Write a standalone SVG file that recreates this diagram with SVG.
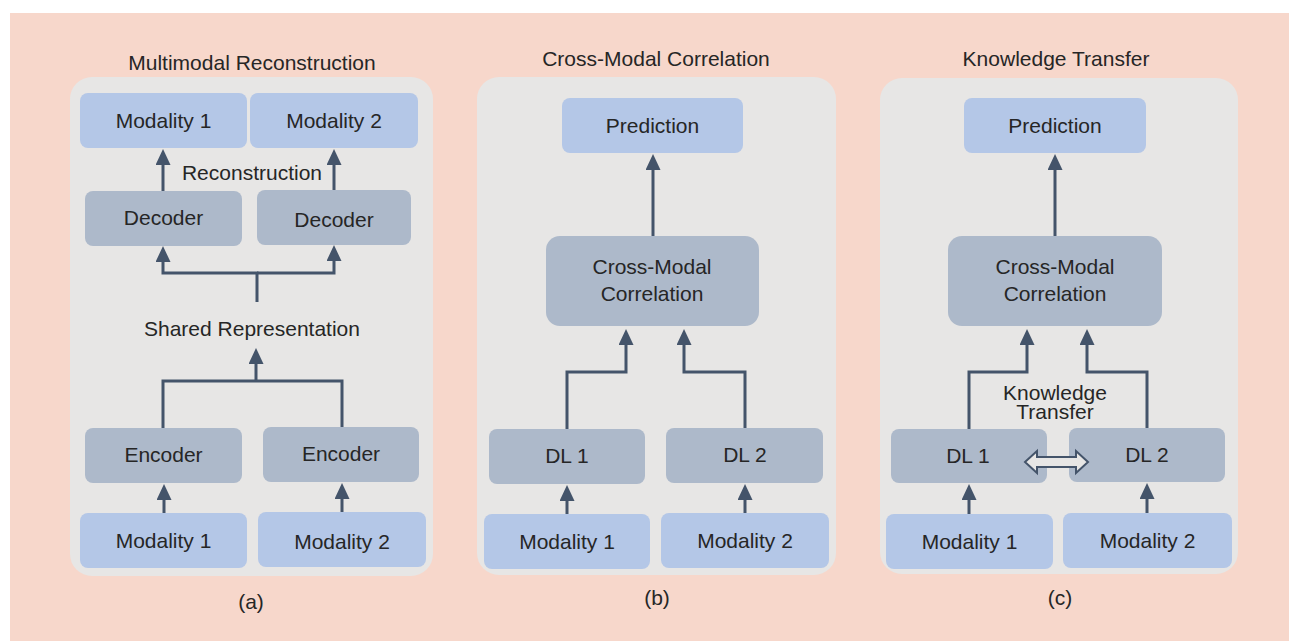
<svg xmlns="http://www.w3.org/2000/svg" width="1289" height="641" viewBox="0 0 1289 641">
  <defs>
    <style>
      text { font-family: "Liberation Sans", Arial, sans-serif; font-size: 21px; fill: #262626; text-anchor: middle; }
      .panel { fill: #e7e6e5; }
      .io { fill: #b4c7e7; }
      .proc { fill: #adb9ca; }
      .wire { fill: none; stroke: #44546a; stroke-width: 3; stroke-linejoin: miter; }
      .wire.head { marker-end: url(#tri); }
    </style>
    <marker id="tri" viewBox="0 0 16 15" refX="0" refY="7.5" markerWidth="16" markerHeight="15" markerUnits="userSpaceOnUse" orient="auto">
      <path d="M0,0 L16,7.5 L0,15 Z" fill="#44546a"/>
    </marker>
  </defs>

  <!-- backdrop -->
  <rect x="0" y="0" width="1289" height="641" fill="#ffffff"/>
  <rect x="10" y="13" width="1279" height="628" fill="#f7d7cb"/>

  <!-- panels -->
  <g id="panel-a">
    <text x="252" y="70">Multimodal Reconstruction</text>
    <rect class="panel" x="70" y="77" width="363" height="499" rx="22"/>
    <text x="251" y="609">(a)</text>
  </g>
  <g id="panel-b">
    <text x="656" y="66">Cross-Modal Correlation</text>
    <rect class="panel" x="477" y="77" width="359" height="498" rx="22"/>
    <text x="657" y="605">(b)</text>
  </g>
  <g id="panel-c">
    <text x="1056" y="66">Knowledge Transfer</text>
    <rect class="panel" x="880" y="78" width="358" height="496" rx="22"/>
    <text x="1060" y="605">(c)</text>
  </g>

  <!-- connectors -->
  <g id="connectors">
    <!-- (a) -->
    <path class="wire head" d="M163,191 V165"/>
    <path class="wire head" d="M334,190 V165"/>
    <path class="wire head" d="M257,302 V273 H163 V262"/>
    <path class="wire head" d="M257,273 H334 V261"/>
    <path class="wire" d="M163,428 V381 H342 V427"/>
    <path class="wire head" d="M256,381 V364"/>
    <path class="wire head" d="M164,513 V500"/>
    <path class="wire head" d="M342,512 V499"/>
    <!-- (b) -->
    <path class="wire head" d="M653,236 V170"/>
    <path class="wire head" d="M567,429 V372 H626 V345"/>
    <path class="wire head" d="M745,428 V372 H684 V345"/>
    <path class="wire head" d="M567,514 V501"/>
    <path class="wire head" d="M745,513 V500"/>
    <!-- (c) -->
    <path class="wire head" d="M1055,236 V170"/>
    <path class="wire head" d="M969,429 V372 H1027 V345"/>
    <path class="wire head" d="M1147,428 V372 H1087 V345"/>
    <path class="wire head" d="M969,514 V500"/>
    <path class="wire head" d="M1147,513 V499"/>
  </g>

  <!-- (a) nodes -->
  <g id="a-mod1-out"><rect class="io" x="80" y="93" width="167" height="55" rx="8"/><text x="163.5" y="128">Modality 1</text></g>
  <g id="a-mod2-out"><rect class="io" x="250" y="93" width="168" height="55" rx="8"/><text x="334" y="128">Modality 2</text></g>
  <g id="a-recon-label"><text x="252" y="180">Reconstruction</text></g>
  <g id="a-dec1"><rect class="proc" x="85" y="191" width="157" height="55" rx="8"/><text x="163.5" y="225">Decoder</text></g>
  <g id="a-dec2"><rect class="proc" x="257" y="190" width="154" height="55" rx="8"/><text x="334" y="227">Decoder</text></g>
  <g id="a-shared"><text x="252" y="336">Shared Representation</text></g>
  <g id="a-enc1"><rect class="proc" x="85" y="428" width="157" height="55" rx="8"/><text x="163.5" y="462">Encoder</text></g>
  <g id="a-enc2"><rect class="proc" x="263" y="427" width="156" height="55" rx="8"/><text x="341" y="461">Encoder</text></g>
  <g id="a-mod1-in"><rect class="io" x="80" y="513" width="167" height="55" rx="8"/><text x="163.5" y="548">Modality 1</text></g>
  <g id="a-mod2-in"><rect class="io" x="258" y="512" width="168" height="55" rx="8"/><text x="342" y="549">Modality 2</text></g>

  <!-- (b) nodes -->
  <g id="b-pred"><rect class="io" x="562" y="98" width="181" height="55" rx="8"/><text x="652.5" y="133">Prediction</text></g>
  <g id="b-cmc"><rect class="proc" x="546" y="236" width="213" height="90" rx="14"/><text x="652" y="274">Cross-Modal</text><text x="652" y="301">Correlation</text></g>
  <g id="b-dl1"><rect class="proc" x="489" y="429" width="156" height="55" rx="8"/><text x="567" y="463">DL 1</text></g>
  <g id="b-dl2"><rect class="proc" x="666" y="428" width="157" height="55" rx="8"/><text x="745" y="462">DL 2</text></g>
  <g id="b-mod1"><rect class="io" x="484" y="514" width="166" height="55" rx="8"/><text x="567" y="549">Modality 1</text></g>
  <g id="b-mod2"><rect class="io" x="661" y="513" width="168" height="55" rx="8"/><text x="745" y="548">Modality 2</text></g>

  <!-- (c) nodes -->
  <g id="c-pred"><rect class="io" x="964" y="98" width="182" height="55" rx="8"/><text x="1055" y="133">Prediction</text></g>
  <g id="c-cmc"><rect class="proc" x="948" y="236" width="214" height="90" rx="14"/><text x="1055" y="274">Cross-Modal</text><text x="1055" y="301">Correlation</text></g>
  <g id="c-kt-label"><text x="1055" y="400">Knowledge</text><text x="1055" y="419">Transfer</text></g>
  <g id="c-dl1"><rect class="proc" x="891" y="429" width="156" height="54" rx="8"/><text x="968" y="463">DL 1</text></g>
  <g id="c-dl2"><rect class="proc" x="1069" y="428" width="156" height="54" rx="8"/><text x="1147" y="462">DL 2</text></g>
  <g id="c-mod1"><rect class="io" x="886" y="514" width="167" height="55" rx="8"/><text x="969.5" y="549">Modality 1</text></g>
  <g id="c-mod2"><rect class="io" x="1063" y="513" width="169" height="55" rx="8"/><text x="1147.5" y="548">Modality 2</text></g>

  <!-- hollow two-way arrow between DL 1 and DL 2 -->
  <g id="c-exchange">
    <polygon points="1025,462 1037,451 1037,457 1076,457 1076,451 1088,462 1076,473 1076,467 1037,467 1037,473" fill="#e7e6e5" stroke="#44546a" stroke-width="2" stroke-linejoin="miter"/>
  </g>
</svg>
